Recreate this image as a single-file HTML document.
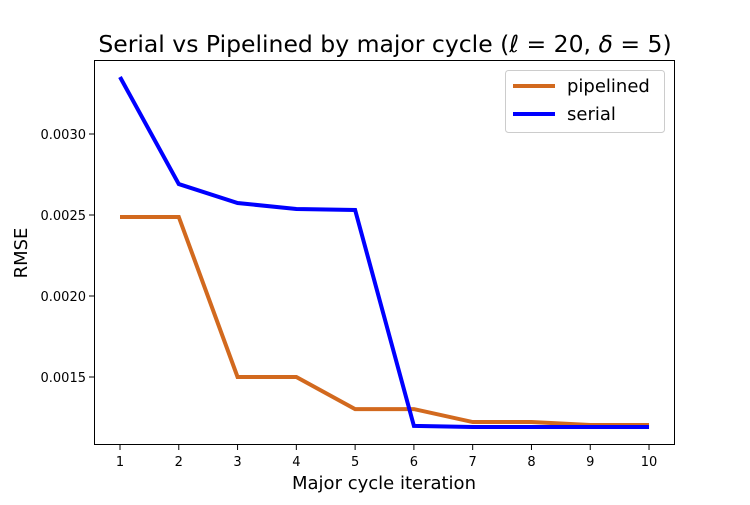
<!DOCTYPE html>
<html><head><meta charset="utf-8"><style>
body{margin:0;background:#fff}
svg{font-family:"DejaVu Sans","Liberation Sans",sans-serif}
</style></head><body>
<svg width="750" height="500">
<rect width="750" height="500" fill="#fff"/>
<text x="385" y="52" text-anchor="middle" font-size="23.5">Serial vs Pipelined by major cycle (<tspan font-style="italic">ℓ</tspan> = 20, <tspan font-style="italic">δ</tspan> = 5)</text>
<g id="axes"></g>
<g id="lines"></g>
<rect x="94.5" y="60.5" width="580" height="384" fill="none" stroke="#000" stroke-width="1"/>
<text x="384" y="489" text-anchor="middle" font-size="18">Major cycle iteration</text>
<text transform="translate(27,253) rotate(-90)" text-anchor="middle" font-size="18">RMSE</text>
<g>
<rect x="505.5" y="70.5" width="159" height="62" rx="3" fill="#fff" stroke="#ccc"/>
<line x1="513" y1="86" x2="555" y2="86" stroke="#d2691e" stroke-width="4"/>
<text x="567" y="92" font-size="18">pipelined</text>
<line x1="513" y1="114" x2="555" y2="114" stroke="#0000ff" stroke-width="4"/>
<text x="567" y="120" font-size="18">serial</text>
</g>
</svg>
<script>
const iterations=[1,2,3,4,5,6,7,8,9,10];
const pipelined=[0.002488,0.002488,0.0015,0.0015,0.001302,0.001302,0.001222,0.001222,0.001204,0.001204];
const serial=[0.003352,0.002691,0.002574,0.002537,0.002531,0.001198,0.001191,0.001191,0.001191,0.001191];
const yTicks=[0.0015,0.0020,0.0025,0.0030];
const yTickLabels=["0.0015","0.0020","0.0025","0.0030"];
const ns="http://www.w3.org/2000/svg";
function xs(i){return 120+(i-1)*58.78;}
function ys(v){return 377-(v-0.0015)*162000;}
const axes=document.getElementById('axes');
function mk(tag,attrs,parent){const e=document.createElementNS(ns,tag);for(const k in attrs)e.setAttribute(k,attrs[k]);parent.appendChild(e);return e;}
iterations.forEach(i=>{
  const t=mk('line',{x1:xs(i),x2:xs(i),y1:445,y2:450,stroke:'#000'},axes);
  
  
  const l=mk('text',{x:xs(i),y:466,'text-anchor':'middle','font-size':13},axes);
  
  
  l.textContent=i;
});
yTicks.forEach((v,k)=>{
  const t=mk('line',{x1:89,x2:94,y1:ys(v),y2:ys(v),stroke:'#000'},axes);
  
  
  const l=mk('text',{x:86,y:ys(v)+5,'text-anchor':'end','font-size':13},axes);
  
  
  l.textContent=yTickLabels[k];
});
const lines=document.getElementById('lines');
function draw(data,color,name){
  const p=mk('polyline',{points:data.map((v,i)=>xs(iterations[i])+','+ys(v)).join(' '),fill:'none',stroke:color,'stroke-width':4,'stroke-linejoin':'miter'},lines);
  
  
}
draw(pipelined,'#d2691e','pipelined-line');
draw(serial,'#0000ff','serial-line');
</script>
</body></html>
